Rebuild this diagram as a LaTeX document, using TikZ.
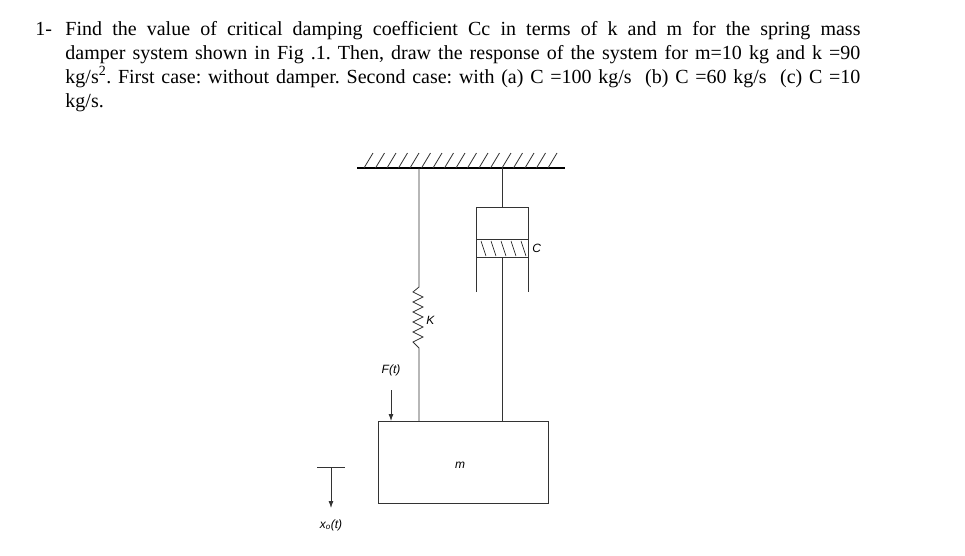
\documentclass[tikz,border=0pt]{standalone}
\usepackage{fontspec}
\setmainfont{Liberation Serif}
\newfontfamily\figfont{Liberation Sans}
\usetikzlibrary{arrows.meta}
\frenchspacing
\begin{document}
\begin{tikzpicture}[x=1pt,y=-1pt,line width=0.9pt,
  txt/.style={anchor=base west,inner sep=0pt,font=\fontsize{20}{24}\selectfont},
  lbl/.style={inner sep=0pt,font=\figfont\itshape\fontsize{12}{14}\selectfont},
  thin/.style={line width=0.8pt,draw=black!80},
  arr/.style={thin,-{Latex[length=7pt,width=5pt]}}]
\useasboundingbox (0,0) rectangle (965,555);
\node[txt] (n1) at (35,35) {1-};
\node[txt] (l1) at (65,35) {\makebox[795pt][s]{Find the value of critical damping coefficient Cc in terms of k and m for the spring mass}};
\node[txt] (l2) at (65,59) {\makebox[795pt][s]{damper system shown in Fig .1. Then, draw the response of the system for m=10 kg and k =90}};
\node[txt] (l3) at (65,83) {\makebox[795pt][s]{kg/s\textsuperscript{2}. First case: without damper. Second case: with (a) C =100 kg/s\ \ (b) C =60 kg/s\ \ (c) C =10}};
\node[txt] (l4) at (65,107) {kg/s.};
% ceiling
\coordinate (cl) at (357,168); \coordinate (cr) at (565,168);
\draw[line width=1.1pt] (cl) -- (cr);
\foreach \i in {0,...,16} \draw[thin] (364+11.5*\i,168) -- (373+11.5*\i,153);
% mass
\node[draw,thin,minimum width=170pt,minimum height=82pt,inner sep=0pt] (m) at (463,462) {};
\node[lbl] (mt) at (460,465) {m};
% spring
\coordinate (s0) at (419,168); \coordinate (s1) at (419,287); \coordinate (s2) at (419,348);
\coordinate (sm) at (419,421);
\draw[thin] (s0) -- (s1) -- ++(-6,5) -- ++(10,5) -- ++(-10,5) -- ++(10,5) -- ++(-10,5) -- ++(10,5) -- ++(-10,5) -- ++(10,5) -- ++(-10,5) -- ++(10,5) -- ++(-10,5) -- (s2) -- (sm);
\node[lbl,anchor=west] (kt) at (426,320) {K};
% damper
\coordinate (d0) at (502,168); \coordinate (d1) at (502,207);
\coordinate (d2) at (502,257); \coordinate (dm) at (502,421);
\draw[thin] (d0) -- (d1);
\draw[thin] (476,292) -- (476,207) -- (528,207) -- (528,292);
\draw[thin] (476,239) rectangle (528,257);
\foreach \i in {0,...,4} \draw[line width=0.5pt] (481+10*\i,241) -- (486+10*\i,256);
\draw[thin] (d2) -- (dm);
\node[lbl,anchor=west] (ct) at (532,248) {C};
% force
\node[lbl] (ft) at (391,370) {F(t)};
\coordinate (f0) at (391,390); \coordinate (f1) at (391,421);
\draw[arr] (f0) -- (f1);
% displacement
\coordinate (xb) at (331,467); \coordinate (xe) at (331,508);
\draw[thin] (317,467) -- (345,467);
\draw[arr] (xb) -- (xe);
\node[lbl] (xt) at (331,525) {x\textsubscript{o}(t)};
\end{tikzpicture}
\end{document}
